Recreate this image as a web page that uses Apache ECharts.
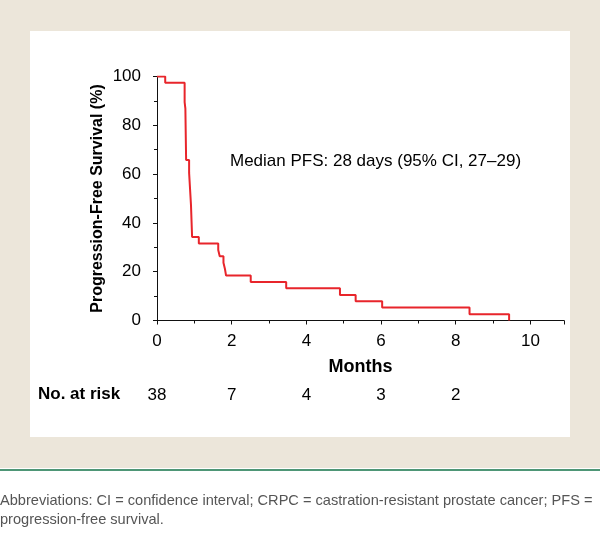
<!DOCTYPE html>
<html>
<head>
<meta charset="utf-8">
<script src="https://cdn.jsdelivr.net/npm/echarts@6/dist/echarts.min.js"></script>
<style>
html,body{margin:0;padding:0;background:#fff;}
#c{width:600px;height:534px;}
</style>
</head>
<body>
<div id="c"></div>
<script>
// Kaplan-Meier progression-free survival (months, %)
var times    = [0, 0.22, 0.74, 0.76, 0.78, 0.86, 0.91, 0.94, 1.12, 1.64, 1.68, 1.78, 1.82, 1.85, 2.51, 3.46, 4.90, 5.32, 6.03, 8.37, 9.43];
var survival = [100, 97.4, 89.5, 86.8, 65.8, 60.5, 47.4, 34.2, 31.6, 28.9, 26.3, 23.7, 21.1, 18.4, 15.8, 13.2, 10.5, 7.9, 5.3, 2.6, 0];
var riskTimes = [0, 2, 4, 6, 8];
var atRisk    = [38, 7, 4, 3, 2];
var xTicks = [0, 2, 4, 6, 8, 10];
var yTicks = [0, 20, 40, 60, 80, 100];
var medianText = 'Median PFS: 28 days (95% CI, 27\u201329)';
var footnote = 'Abbreviations: CI = confidence interval; CRPC = castration-resistant prostate cancer; PFS =\nprogression-free survival.';

var FONT = '"Liberation Sans", Arial, sans-serif';
var chart = echarts.init(document.getElementById('c'), null, {renderer: 'canvas'});

var kmData = times.map(function (t, i) { return [t, survival[i]]; });
var riskData = riskTimes.map(function (t, i) { return [t, 0.5, atRisk[i]]; });

var option = {
  animation: false,
  backgroundColor: '#ffffff',
  textStyle: {fontFamily: FONT},
  graphic: [
    {type: 'rect', z: -10, shape: {x: 0, y: 0, width: 600, height: 468}, style: {fill: '#ECE6DA'}},
    {type: 'rect', z: -9, shape: {x: 30, y: 31, width: 540, height: 406}, style: {fill: '#ffffff'}},
    {type: 'rect', z: -9, shape: {x: 0, y: 469, width: 600, height: 2}, style: {fill: '#4E9676'}},
    {type: 'text', left: 38, top: 386, style: {text: 'No. at risk', font: 'bold 17px ' + FONT, fill: '#000'}},
    {type: 'text', left: 230, top: 153, style: {text: medianText, font: '17px ' + FONT, fill: '#000'}},
    {type: 'text', left: 0, top: 491, style: {text: footnote, font: '14.6px ' + FONT, fill: '#555', lineHeight: 19}}
  ],
  grid: [
    {left: 157, top: 76.5, right: 36, height: 244},
    {left: 157, top: 385, right: 36, height: 20}
  ],
  xAxis: [
    {
      gridIndex: 0, type: 'value', min: 0, max: 10.9, interval: 2,
      name: 'Months', nameLocation: 'middle', nameGap: 38,
      nameTextStyle: {fontFamily: FONT, fontWeight: 'bold', fontSize: 18, color: '#000'},
      axisLine: {lineStyle: {color: '#111', width: 1}},
      axisTick: {show: true, length: 4, lineStyle: {color: '#111'}},
      minorTick: {show: true, splitNumber: 2, length: 3, lineStyle: {color: '#111'}},
      splitLine: {show: false},
      axisLabel: {
        fontFamily: FONT, fontSize: 17, color: '#000', margin: 12,
        formatter: function (v) { return xTicks.indexOf(v) >= 0 ? String(v) : ''; }
      }
    },
    {
      gridIndex: 1, type: 'value', min: 0, max: 10.9, show: false
    }
  ],
  yAxis: [
    {
      gridIndex: 0, type: 'value', min: 0, max: 100, interval: 20,
      name: 'Progression-Free Survival (%)', nameLocation: 'middle', nameGap: 51, nameRotate: 90,
      nameMoveOverlap: false,
      nameTextStyle: {fontFamily: FONT, fontWeight: 'bold', fontSize: 16, color: '#000'},
      axisLine: {show: true, lineStyle: {color: '#111', width: 1}},
      axisTick: {show: true, length: 4, lineStyle: {color: '#111'}},
      minorTick: {show: true, splitNumber: 2, length: 3, lineStyle: {color: '#111'}},
      splitLine: {show: false},
      axisLabel: {
        fontFamily: FONT, fontSize: 17, color: '#000', margin: 16,
        formatter: function (v) { return yTicks.indexOf(v) >= 0 ? String(v) : ''; }
      }
    },
    {gridIndex: 1, type: 'value', min: 0, max: 1, show: false}
  ],
  series: [
    {
      type: 'line', xAxisIndex: 0, yAxisIndex: 0, step: 'end',
      data: kmData, showSymbol: false, symbol: 'none',
      lineStyle: {color: '#E8252B', width: 2}
    },
    {
      type: 'scatter', xAxisIndex: 1, yAxisIndex: 1, data: riskData,
      symbolSize: 0, itemStyle: {opacity: 1},
      label: {
        show: true, position: 'inside', fontFamily: FONT, fontSize: 17, color: '#000',
        textBorderWidth: 0, opacity: 1,
        formatter: function (p) { return String(p.value[2]); }
      }
    }
  ]
};
chart.setOption(option);
</script>
</body>
</html>
